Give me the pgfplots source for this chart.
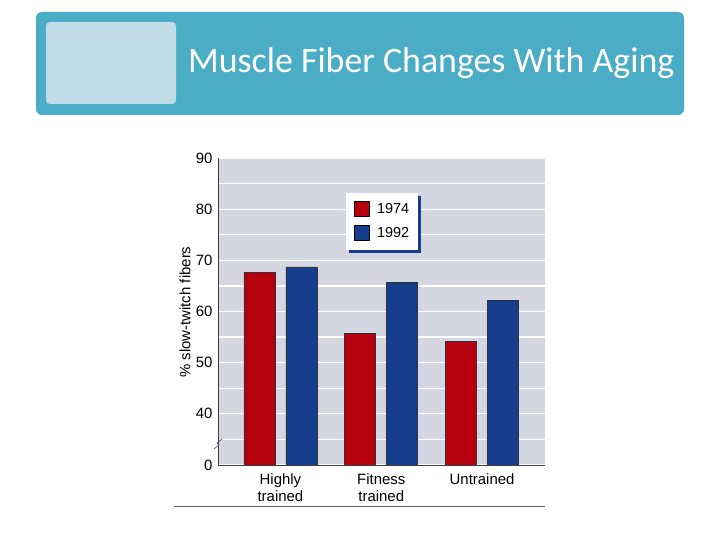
\documentclass[border=0pt]{standalone}
\usepackage{pgfplots}
\pgfplotsset{compat=1.18}
\usepackage{fontspec}
\setmainfont{Liberation Sans}
\newfontfamily\titlefont{Carlito}
\definecolor{barred}{RGB}{183,0,14}
\definecolor{barblue}{RGB}{23,62,142}
\definecolor{bgplot}{RGB}{212,214,226}
\definecolor{banner}{RGB}{75,172,198}
\definecolor{bannerin}{RGB}{192,220,230}
\begin{document}
\begin{tikzpicture}[x=1bp,y=1bp]
\path[use as bounding box] (0,0) rectangle (720,540);
\fill[banner, rounded corners=6bp] (36,425) rectangle (684,528);
\fill[bannerin, rounded corners=4bp] (46,436) rectangle (176,518);
\node[anchor=west, text=white, font=\titlefont\fontsize{36}{40}\selectfont, inner sep=0pt] at (188,477) {Muscle Fiber Changes With Aging};
\begin{axis}[
  at={(218bp,75bp)}, anchor=south west,
  scale only axis, width=327bp, height=307bp,
  xmin=-0.619, xmax=2.624, ymin=30, ymax=90,
  axis background/.style={fill=bgplot},
  axis x line*=bottom, axis y line*=left,
  axis line style={draw=black!75, line width=0.8bp},
  ytick={30,40,...,90}, yticklabels={0,40,50,60,70,80,90},
  minor ytick={35,45,...,85},
  ymajorgrids, yminorgrids,
  major grid style={white, line width=1.2bp},
  minor grid style={white, line width=1.2bp},
  major tick length=0pt, minor tick length=0pt,
  xtick={0,1,2}, xticklabels={Highly\\trained, Fitness\\trained, Untrained},
  xticklabel style={align=center, font=\fontsize{15}{17}\selectfont, yshift=-5bp},
  yticklabel style={font=\fontsize{15}{17}\selectfont, xshift=-2bp},
  /pgf/number format/assume math mode=true,
  every axis y label/.style={at={(axis description cs:-0.101,0.498)}, rotate=90, anchor=center},
  ylabel={\% slow-twitch fibers},
  ylabel style={font=\fontsize{15}{17}\selectfont},
  ybar=11bp, bar width=31bp,
  legend style={at={(axis description cs:0.4165,0.859)}, anchor=north west, draw=none, fill=none,
    font=\fontsize{14.5}{17}\selectfont, inner sep=0pt, row sep=8bp, column sep=5bp,
    nodes={inner sep=2bp}},
  legend cell align=left,
  legend image code/.code={\draw[#1, draw=black, line width=0.6bp] (0bp,-7.5bp) rectangle (15bp,7.5bp);},
]
\fill[barblue] (axis description cs:0.4006,0.6906) rectangle (axis description cs:0.6208,0.8762);
\fill[white] (axis description cs:0.3914,0.6999) rectangle (axis description cs:0.6116,0.8860);
\addplot[fill=barred, draw=black!80, line width=0.6bp] coordinates {(0,67.6) (1,55.7) (2,54.2)};
\addplot[fill=barblue, draw=black!80, line width=0.6bp] coordinates {(0,68.7) (1,65.7) (2,62.2)};
\legend{1974,1992}
\end{axis}
\draw[black!70, line width=0.6bp] (214,91) -- (219,95) -- (217,97) -- (222,101);
\draw[black!60, line width=0.8bp] (174,34) -- (545,34);
\end{tikzpicture}
\end{document}
